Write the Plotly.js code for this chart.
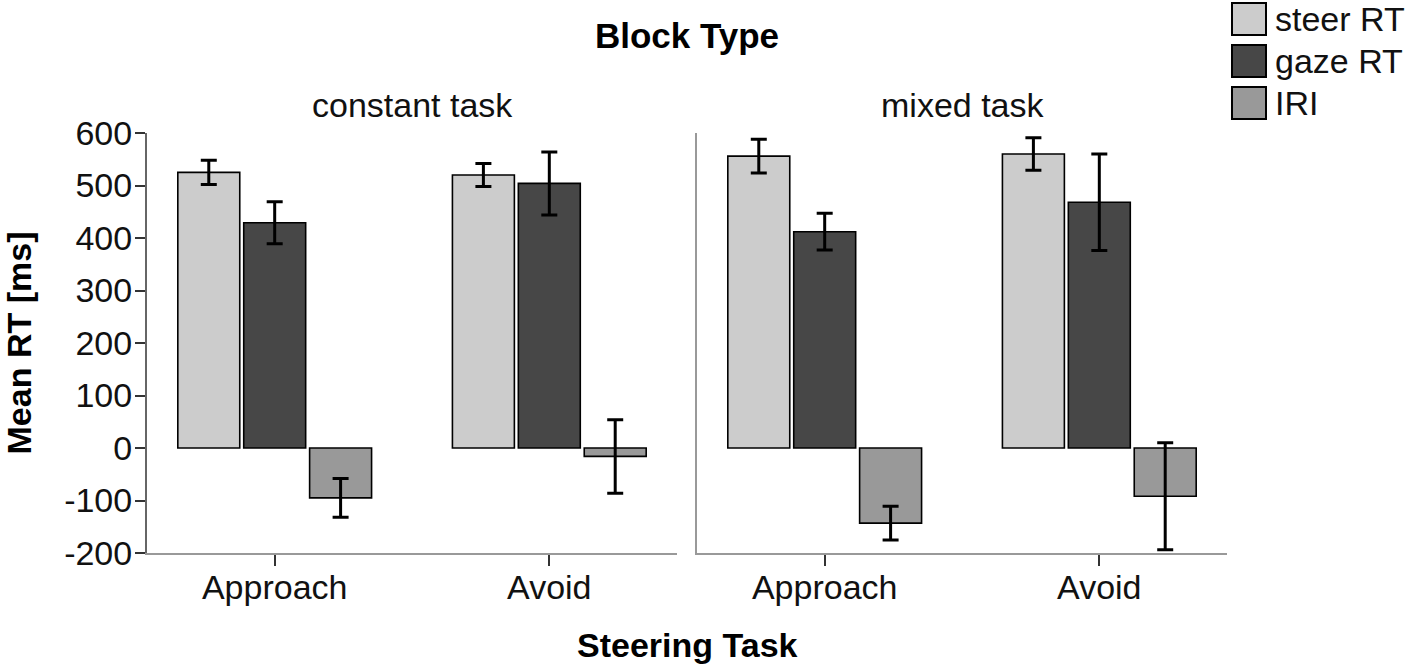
<!DOCTYPE html>
<html>
<head>
<meta charset="utf-8">
<script src="https://cdn.plot.ly/plotly-3.0.1.min.js"></script>
<style>html,body{margin:0;padding:0;background:#fff;}#chart{width:1418px;height:668px;}</style>
</head>
<body>
<div id="chart"></div>
<script>
// ---- data ----
const categories = ['Approach', 'Avoid'];
const blockTypes = ['constant task', 'mixed task'];
const seriesNames = ['steer RT', 'gaze RT', 'IRI'];

const constantSteer = [525, 520];
const constantSteerErr = [23, 22];
const constantGaze = [429, 504];
const constantGazeErr = [40, 60];
const constantIRI = [-95, -16];
const constantIRIErr = [37, 70];

const mixedSteer = [556, 560];
const mixedSteerErr = [32, 31];
const mixedGaze = [412, 468];
const mixedGazeErr = [35, 92];
const mixedIRI = [-143, -92];
const mixedIRIErr = [32, 102];

const yTicks = [-200, -100, 0, 100, 200, 300, 400, 500, 600];
const yTickLabels = ['-200', '-100', '0', '100', '200', '300', '400', '500', '600'];

// ---- styling ----
const colors = ['#cccccc', '#474747', '#999999'];
const FONT = 'Arial, "Liberation Sans", sans-serif';
const W = 1418, H = 668;
const M = {l: 147, r: 191, t: 133, b: 115};
const PW = W - M.l - M.r, PH = H - M.t - M.b;
const px2x = p => (p - M.l) / PW;
const px2y = p => (H - M.b - p) / PH;

const panels = [
  {vals: [constantSteer, constantGaze, constantIRI], errs: [constantSteerErr, constantGazeErr, constantIRIErr], xa: 'x', ya: 'y'},
  {vals: [mixedSteer, mixedGaze, mixedIRI], errs: [mixedSteerErr, mixedGazeErr, mixedIRIErr], xa: 'x2', ya: 'y2'}
];

const traces = [];
panels.forEach((p, pi) => {
  seriesNames.forEach((name, si) => {
    traces.push({
      type: 'bar',
      name: name,
      legendgroup: name,
      showlegend: false,
      x: categories,
      y: p.vals[si],
      xaxis: p.xa,
      yaxis: p.ya,
      marker: {color: colors[si], line: {color: '#000', width: 1.6}},
      error_y: {type: 'data', array: p.errs[si], visible: true, color: '#000', thickness: 3, width: 8}
    });
  });
});

const xCommon = {
  type: 'category',
  range: [-0.465, 1.465],
  showline: true, linecolor: '#999', linewidth: 2,
  ticks: 'outside', ticklen: 11, tickwidth: 2, tickcolor: '#333',
  ticklabelstandoff: -8,
  showgrid: false, zeroline: false,
  tickfont: {family: FONT, size: 34, color: '#111'},
  fixedrange: true
};
const yCommon = {
  range: [-200, 600],
  showgrid: false, zeroline: false,
  showline: true, linewidth: 2,
  fixedrange: true
};

// manual legend (large swatches as in the reference)
const shapes = [];
const annotations = [];
seriesNames.forEach((name, i) => {
  const top = 3 + i * 42;
  shapes.push({type: 'rect', xref: 'paper', yref: 'paper',
    x0: px2x(1232), x1: px2x(1266), y0: px2y(top + 32), y1: px2y(top),
    fillcolor: colors[i], line: {color: '#000', width: 2}});
  annotations.push({xref: 'paper', yref: 'paper', x: px2x(1273), y: px2y(top + 16),
    xanchor: 'left', yanchor: 'middle', text: name, showarrow: false,
    font: {family: FONT, size: 34, color: '#111'}});
});
blockTypes.forEach((b, i) => {
  annotations.push({xref: i === 0 ? 'x domain' : 'x2 domain', yref: 'paper', x: 0.5, y: px2y(105),
    xanchor: 'center', yanchor: 'middle', text: b, showarrow: false,
    font: {family: FONT, size: 34, color: '#111'}});
});
annotations.push({xref: 'paper', yref: 'paper', x: 0.5, y: px2y(645),
  xanchor: 'center', yanchor: 'middle', text: '<b>Steering Task</b>', showarrow: false,
  font: {family: FONT, size: 34, color: '#000'}});

const layout = {
  width: W, height: H,
  margin: M,
  paper_bgcolor: '#fff', plot_bgcolor: '#fff',
  showlegend: false,
  barmode: 'group',
  bargap: 0.28,
  bargroupgap: 0.06,
  title: {text: '<b>Block Type</b>', x: 0.5, xref: 'paper', xanchor: 'center',
    y: 1 - 36 / H, yanchor: 'middle', font: {family: FONT, size: 35, color: '#000'}},
  xaxis: Object.assign({}, xCommon, {domain: [0, 530 / PW], anchor: 'y'}),
  xaxis2: Object.assign({}, xCommon, {domain: [550 / PW, 1], anchor: 'y2'}),
  yaxis: Object.assign({}, yCommon, {
    domain: [0, 1], anchor: 'x', linecolor: '#666',
    tickmode: 'array', tickvals: yTicks, ticktext: yTickLabels,
    ticks: 'outside', ticklen: 10, tickwidth: 2, tickcolor: '#333',
    ticklabelstandoff: -4,
    tickfont: {family: FONT, size: 34, color: '#111'},
    title: {text: '<b>Mean RT [ms]</b>', standoff: 32, font: {family: FONT, size: 34, color: '#000'}}
  }),
  yaxis2: Object.assign({}, yCommon, {
    domain: [0, 1], anchor: 'x2', linecolor: '#999', matches: 'y',
    ticks: '', showticklabels: false
  }),
  shapes: shapes,
  annotations: annotations
};

Plotly.newPlot('chart', traces, layout, {displayModeBar: false, staticPlot: true});
</script>
</body>
</html>
